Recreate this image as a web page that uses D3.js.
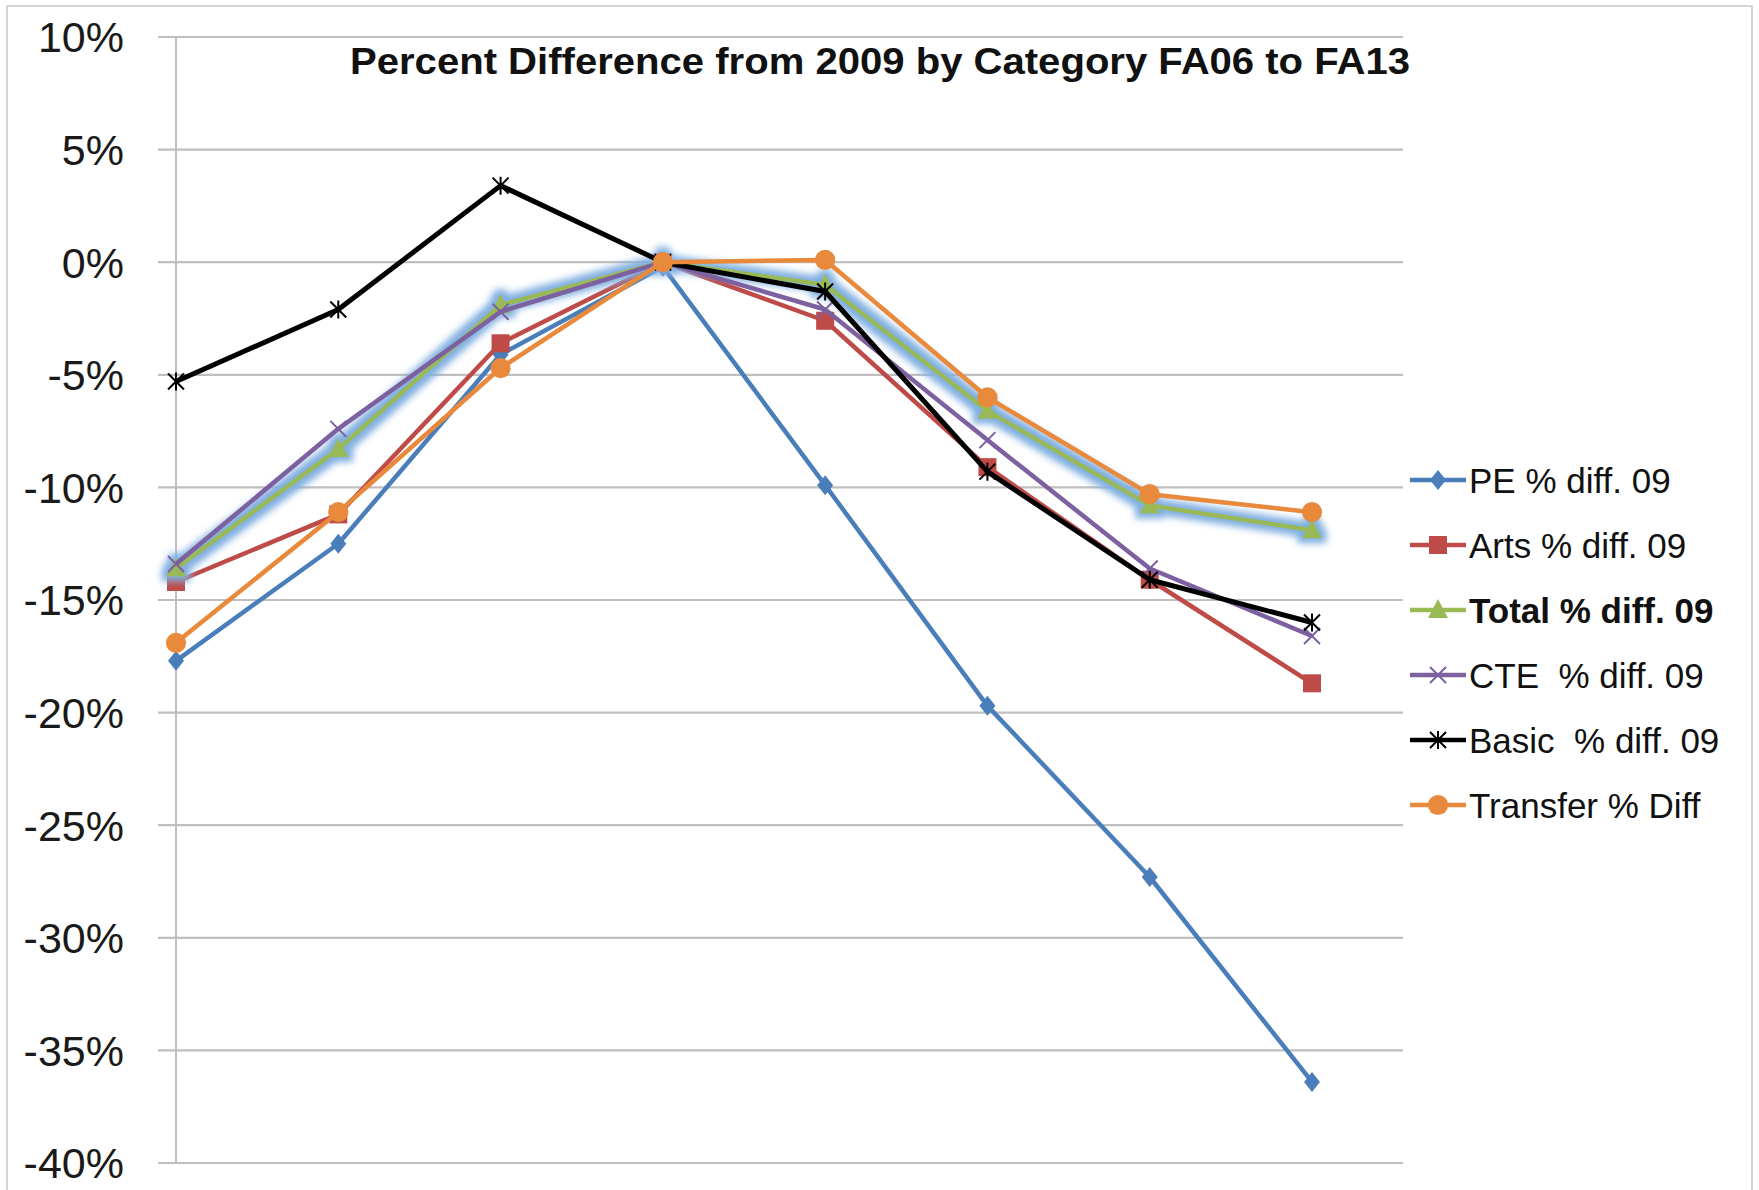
<!DOCTYPE html>
<html>
<head>
<meta charset="utf-8">
<script src="https://cdn.jsdelivr.net/npm/d3@7"></script>
<style>
  body { margin: 0; background: #fff; }
  svg { display: block; }
</style>
</head>
<body>
<div id="chart"></div>
<script>
// data
var categories = ["FA06", "FA07", "FA08", "FA09", "FA10", "FA11", "FA12", "FA13"];
var yTicks = [0.10, 0.05, 0, -0.05, -0.10, -0.15, -0.20, -0.25, -0.30, -0.35, -0.40];

var pe       = [-17.7, -12.5, -4.1, -0.2,  -9.9, -19.7, -27.3, -36.4];
var arts     = [-14.2, -11.2, -3.6,  0.0,  -2.6,  -9.1, -14.1, -18.7];
var total    = [-13.6,  -8.3, -1.9,  0.0,  -1.0,  -6.6, -10.8, -11.9];
var cte      = [-13.4,  -7.4, -2.2,  0.0,  -2.1,  -7.9, -13.6, -16.6];
var basic    = [ -5.3,  -2.1,  3.4,  0.0,  -1.3,  -9.3, -14.1, -16.0];
var transfer = [-16.9, -11.1, -4.7,  0.0,   0.1,  -6.0, -10.3, -11.1];

var seriesNames = ["PE % diff. 09", "Arts % diff. 09", "Total % diff. 09",
                   "CTE  % diff. 09", "Basic  % diff. 09", "Transfer % Diff"];
var seriesValues = [pe, arts, total, cte, basic, transfer];
var seriesColors = ["#4A7EBB", "#BE4B48", "#98B954", "#7D60A0", "#000000", "#E8893C"];
var seriesMarkers = ["diamond", "square", "triangle", "cross", "star", "circle"];

var width = 1759, height = 1190;

var svg = d3.select("#chart").append("svg")
  .attr("width", width)
  .attr("height", height);

// glow for the Total series
var defs = svg.append("defs");
var glow = defs.append("filter").attr("id", "glow")
  .attr("x", "-20%").attr("y", "-20%").attr("width", "140%").attr("height", "140%");
glow.append("feMorphology").attr("in", "SourceAlpha").attr("operator", "dilate").attr("radius", 5).attr("result", "fat");
glow.append("feGaussianBlur").attr("in", "fat").attr("stdDeviation", 3.5).attr("result", "blur");
glow.append("feFlood").attr("flood-color", "#7FAEE0").attr("flood-opacity", 1);
glow.append("feComposite").attr("in2", "blur").attr("operator", "in").attr("result", "halo");
var merge = glow.append("feMerge");
merge.append("feMergeNode").attr("in", "halo");
merge.append("feMergeNode").attr("in", "SourceGraphic");

// chart border
svg.append("rect")
  .attr("x", 7).attr("y", 6)
  .attr("width", 1745).attr("height", 1200)
  .attr("fill", "none")
  .attr("stroke", "#D4D4D4")
  .attr("stroke-width", 2);

var x = d3.scalePoint().domain(categories).range([176, 1312]);
var y = d3.scaleLinear().domain([-0.40, 0.10]).range([1163, 37]);

// gridlines
svg.append("g")
  .selectAll("line")
  .data(yTicks)
  .join("line")
  .attr("x1", 158).attr("x2", 1403)
  .attr("y1", d => y(d)).attr("y2", d => y(d))
  .attr("stroke", "#BFBFBF")
  .attr("stroke-width", 2.2);

// y axis line
svg.append("line")
  .attr("x1", 176).attr("x2", 176)
  .attr("y1", y(0.10)).attr("y2", y(-0.40))
  .attr("stroke", "#BFBFBF")
  .attr("stroke-width", 2);

// y tick labels
svg.append("g")
  .selectAll("text")
  .data(yTicks)
  .join("text")
  .attr("x", 124)
  .attr("y", d => y(d))
  .attr("dy", "0.36em")
  .attr("text-anchor", "end")
  .style("font-family", "'Liberation Sans', Arial, sans-serif")
  .style("font-size", "43px")
  .style("fill", "#1a1a1a")
  .text(d => d3.format(".0%")(d).replace("−", "-"));

// title
svg.append("text")
  .attr("x", 880)
  .attr("y", 74)
  .attr("text-anchor", "middle")
  .attr("textLength", 1060)
  .attr("lengthAdjust", "spacingAndGlyphs")
  .style("font-family", "'Liberation Sans', Arial, sans-serif")
  .style("font-weight", "bold")
  .style("font-size", "36px")
  .style("fill", "#111")
  .text("Percent Difference from 2009 by Category FA06 to FA13");

// marker shapes
function markerPath(type) {
  switch (type) {
    case "diamond": return "M0,-10L8,0L0,10L-8,0Z";
    case "square": return "M-9,-9H9V9H-9Z";
    case "triangle": return "M0,-11L10,8H-10Z";
    case "cross": return "M-8,-8L8,8M-8,8L8,-8";
    case "star": return "M-8,-8L8,8M-8,8L8,-8M0,-9V9";
    case "circle": return d3.symbol(d3.symbolCircle, 320)();
  }
}
function isStroke(type) { return type === "cross" || type === "star"; }

var line = d3.line()
  .x((d, i) => x(categories[i]))
  .y(d => y(d / 100));

seriesValues.forEach(function(vals, s) {
  var g = svg.append("g");
  if (s === 2) g.attr("filter", "url(#glow)");
  var col = seriesColors[s];
  g.append("path")
    .datum(vals)
    .attr("d", line)
    .attr("fill", "none")
    .attr("stroke", col)
    .attr("stroke-width", s === 4 ? 5 : 4.5)
    .attr("stroke-linejoin", "round");
  g.selectAll("path.mk")
    .data(vals)
    .join("path")
    .attr("class", "mk")
    .attr("transform", (d, i) => "translate(" + x(categories[i]) + "," + y(d / 100) + ")")
    .attr("d", markerPath(seriesMarkers[s]))
    .attr("fill", isStroke(seriesMarkers[s]) ? "none" : col)
    .attr("stroke", isStroke(seriesMarkers[s]) ? col : "none")
    .attr("stroke-width", 2);
});

// legend
var legend = svg.append("g")
  .selectAll("g")
  .data(seriesNames)
  .join("g")
  .attr("transform", (d, i) => "translate(0," + (480 + i * 65) + ")");

legend.append("line")
  .attr("x1", 1410).attr("x2", 1466)
  .attr("y1", 0).attr("y2", 0)
  .attr("stroke", (d, i) => seriesColors[i])
  .attr("stroke-width", 4.5);

legend.append("path")
  .attr("transform", "translate(1438,0)")
  .attr("d", (d, i) => markerPath(seriesMarkers[i]))
  .attr("fill", (d, i) => isStroke(seriesMarkers[i]) ? "none" : seriesColors[i])
  .attr("stroke", (d, i) => isStroke(seriesMarkers[i]) ? seriesColors[i] : "none")
  .attr("stroke-width", 2);

legend.append("text")
  .attr("x", 1469)
  .attr("y", 0)
  .attr("dy", "0.36em")
  .style("font-family", "'Liberation Sans', Arial, sans-serif")
  .style("font-size", "35px")
  .style("font-weight", (d, i) => i === 2 ? "bold" : "normal")
  .style("fill", "#111")
  .style("white-space", "pre")
  .text(d => d);
</script>
</body>
</html>
